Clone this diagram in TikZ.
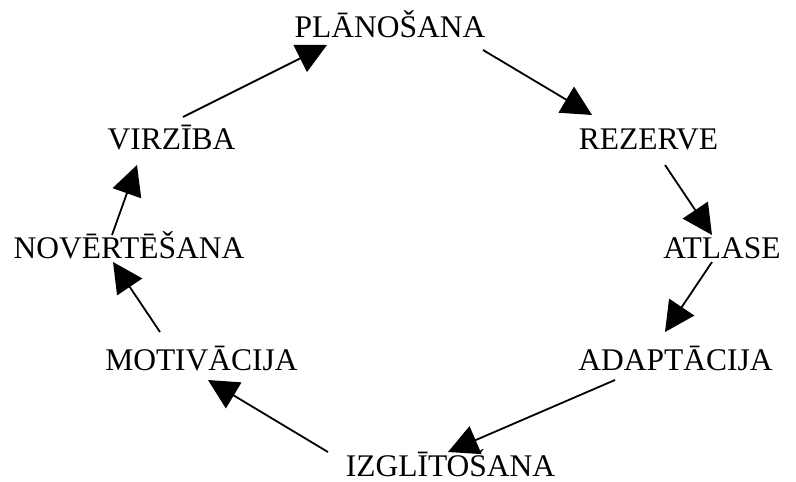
\documentclass[tikz,border=0pt]{standalone}
\usepackage{fontspec}
\setmainfont{Liberation Serif}
\usepackage{tikz}
\usetikzlibrary{arrows.meta, calc}
\tikzstyle{arrow} = [line width=1.8pt, -{Triangle[length=30pt, width=30pt]}]
\tikzstyle{stage} = [inner sep=0pt, anchor=base, font=\fontsize{31.5}{38}\selectfont]

\begin{document}
\begin{tikzpicture}[x=1pt, y=-1pt]
    \useasboundingbox (0,0) rectangle (796,482);
    % Cycle stages
    \node[stage] (plan) at (390,37) {PLĀNOŠANA};
    \node[stage] (rez) at (648.5,149) {REZERVE};
    \node[stage] (atl) at (722,258) {ATLASE};
    \node[stage] (adap) at (675.5,370) {ADAPTĀCIJA};
    \node[stage] (izgl) at (450.5,476) {IZGLĪTOŠANA};
    \node[stage] (motiv) at (201.5,370) {MOTIVĀCIJA};
    \node[stage] (nov) at (129,258) {NOVĒRTĒŠANA};
    \node[stage] (virz) at (171.5,149) {VIRZĪBA};

    % Arrows between stages
    \draw[arrow] ($(virz.base)+(11.5,-32)$) -- ($(plan.base)+(-63,8)$);
    \draw[arrow] ($(plan.base)+(93,13)$) -- ($(rez.base)+(-56.5,-34)$);
    \draw[arrow] ($(rez.base)+(16.5,16)$) -- ($(atl.base)+(-10,-23)$);
    \draw[arrow] ($(atl.base)+(-10,4)$) -- ($(adap.base)+(-10.5,-38)$);
    \draw[arrow] ($(adap.base)+(-60.5,10)$) -- ($(izgl.base)+(-2.5,-24)$);
    \draw[arrow] ($(izgl.base)+(-122.5,-24)$) -- ($(motiv.base)+(6.5,10)$);
    \draw[arrow] ($(motiv.base)+(-41.5,-38)$) -- ($(nov.base)+(-16,4)$);
    \draw[arrow] ($(nov.base)+(-17,-23)$) -- ($(virz.base)+(-34.5,16)$);

\end{tikzpicture}
\end{document}
